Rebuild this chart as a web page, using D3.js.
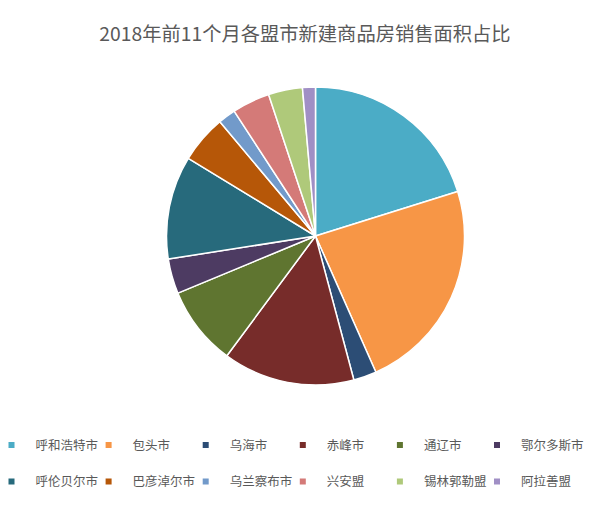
<!DOCTYPE html>
<html><head><meta charset="utf-8">
<script src="https://cdn.jsdelivr.net/npm/d3@7"></script>
<style>body{margin:0;background:#fff;}svg{display:block;}</style>
</head><body>
<script>
const categories = ["呼和浩特市","包头市","乌海市","赤峰市","通辽市","鄂尔多斯市","呼伦贝尔市","巴彦淖尔市","乌兰察布市","兴安盟","锡林郭勒盟","阿拉善盟"];
const shares = [20.2, 23.2, 2.5, 14.3, 8.6, 3.8, 11.2, 5.2, 1.9, 4.1, 3.7, 1.4];
const colors = ["#4BACC6","#F79646","#2C4D75","#772C2A","#5F7530","#4D3B62","#276A7C","#B65708","#729ACA","#D47A78","#AFC97A","#A08FC5"];
const title = "2018年前11个月各盟市新建商品房销售面积占比";

const W = 603, H = 505;
const svg = d3.select("body").append("svg").attr("width", W).attr("height", H);
svg.append("rect").attr("width", W).attr("height", H).attr("fill", "#fff");

const font = "'Noto Sans CJK SC', 'Microsoft YaHei', sans-serif";
svg.append("text").attr("x", 305).attr("y", 41).attr("text-anchor", "middle")
  .attr("font-family", font).attr("font-size", 19.3).attr("fill", "#595959").text(title);

const data = categories.map((c, i) => ({name: c, value: shares[i], color: colors[i]}));
const pie = d3.pie().sort(null).value(d => d.value);
const arc = d3.arc().innerRadius(0).outerRadius(149);
const g = svg.append("g").attr("transform", "translate(315.5,236)");
g.selectAll("path").data(pie(data)).join("path")
  .attr("d", arc).attr("fill", d => d.data.color)
  .attr("stroke", "#fff").attr("stroke-width", 1.5).attr("stroke-linejoin", "round");

const colScale = d3.scalePoint().domain(d3.range(6)).range([11.5, 497]);
const leg = svg.append("g");
const items = leg.selectAll("g").data(data).join("g")
  .attr("transform", (d, i) => `translate(${colScale(i % 6)},${i < 6 ? 445 : 481.5})`);
items.append("rect").attr("x", -3).attr("y", -3).attr("width", 6).attr("height", 6).attr("fill", d => d.color);
items.append("text").attr("x", 24).attr("y", 0).attr("dy", "0.36em")
  .attr("font-family", font).attr("font-size", 12.5).attr("fill", "#595959").text(d => d.name);
</script>
</body></html>
